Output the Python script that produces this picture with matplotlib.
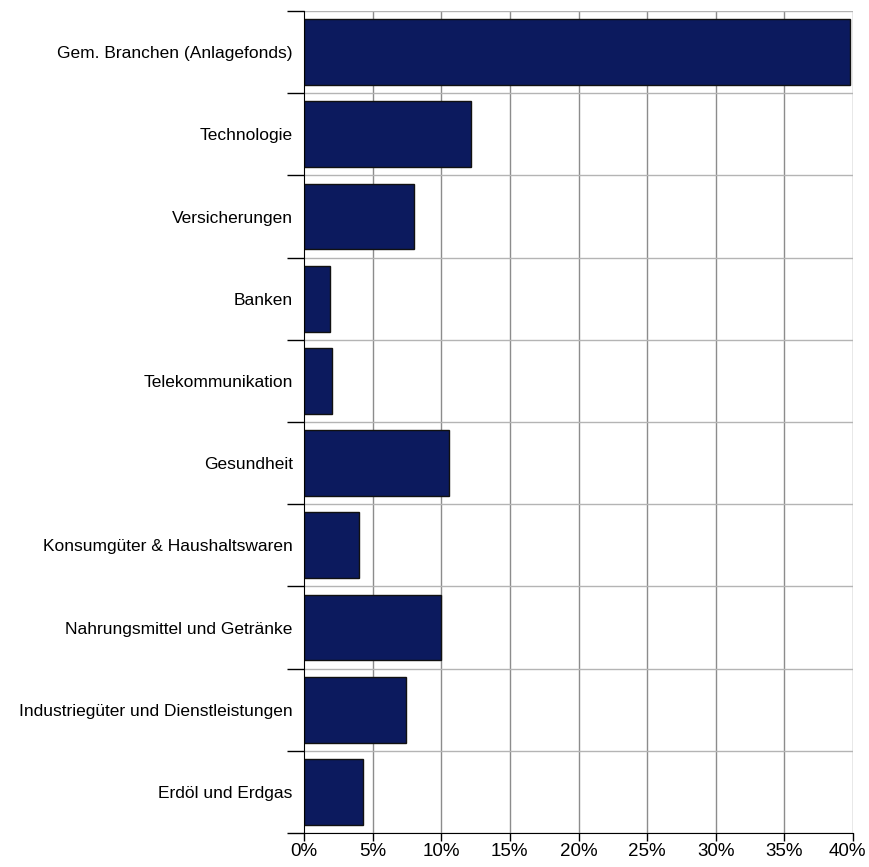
import matplotlib.pyplot as plt
import matplotlib.transforms as mtransforms
import numpy as np

plt.rcParams['font.family'] = ['Liberation Sans', 'DejaVu Sans']

categories = ['Gem. Branchen (Anlagefonds)', 'Technologie', 'Versicherungen', 'Banken',
              'Telekommunikation', 'Gesundheit', 'Konsumgüter & Haushaltswaren',
              'Nahrungsmittel und Getränke', 'Industriegüter und Dienstleistungen',
              'Erdöl und Erdgas']
values = [39.8, 12.2, 8.0, 1.9, 2.05, 10.6, 4.0, 10.0, 7.4, 4.3]
xticks = [0, 5, 10, 15, 20, 25, 30, 35, 40]

fig = plt.figure(figsize=(8.7, 8.67), dpi=100)
ax = fig.add_axes([0.3494, 0.0392, 0.6311, 0.9481])

y = np.arange(len(categories))
ax.barh(y, values, height=0.8, color='#0c1a5e', edgecolor='#111111', linewidth=1, zorder=3)

ax.set_xlim(0, 40)
ax.set_ylim(len(categories) - 0.5, -0.5)

ax.set_xticks(xticks)
ax.set_xticklabels([f'{t}%' for t in xticks], fontsize=13.5)
ax.set_yticks(y)
ax.set_yticklabels(categories, fontsize=12.5)
ax.tick_params(axis='y', which='major', length=0, pad=8)
ax.set_yticks(np.arange(len(categories) + 1) - 0.5, minor=True)
ax.tick_params(axis='y', which='minor', length=12, width=1, color='black')
ax.tick_params(axis='x', length=6, width=1, color='black', pad=1)

# nudge the last label so it stays inside the picture
last = ax.get_xticklabels()[-1]
last.set_transform(last.get_transform() + mtransforms.ScaledTranslation(-4 / 72, 0, fig.dpi_scale_trans))

for t in xticks[1:]:
    ax.axvline(t, color='#8c8c8c', linewidth=1, zorder=1)
for b in np.arange(len(categories) + 1) - 0.5:
    ax.axhline(b, color='#b4b4b4', linewidth=1, zorder=1)

for side in ['top', 'right']:
    ax.spines[side].set_visible(False)
ax.spines['left'].set_color('black')
ax.spines['bottom'].set_color('black')
ax.spines['left'].set_zorder(4)
ax.spines['bottom'].set_zorder(4)

fig.savefig('out.png', dpi=100)
